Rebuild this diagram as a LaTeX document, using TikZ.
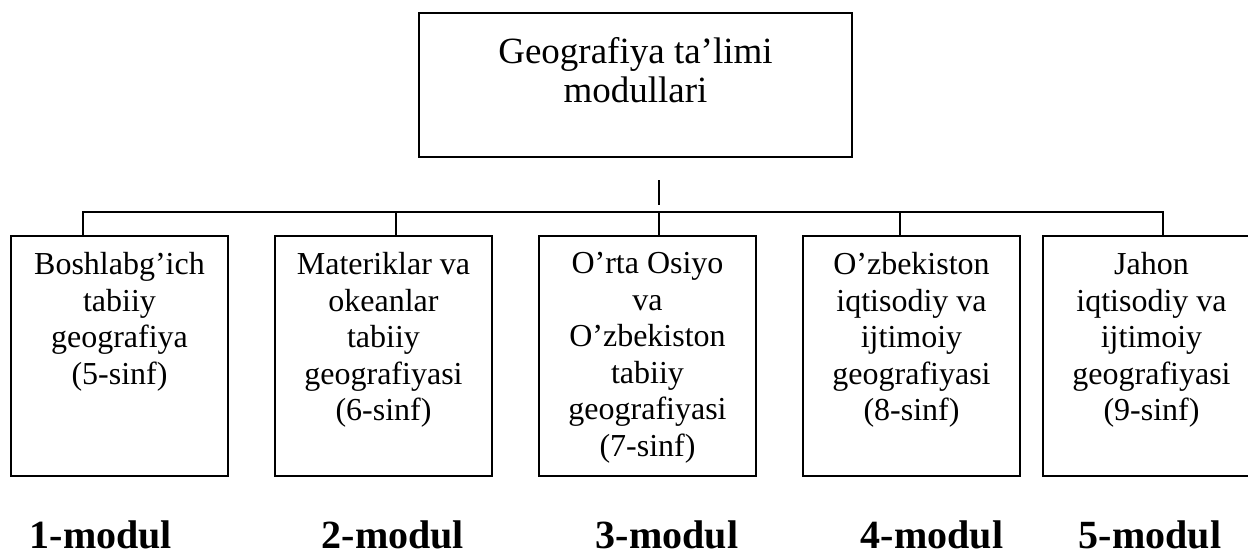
\documentclass[tikz,border=0pt]{standalone}
\usepackage{fontspec}
\setmainfont{Liberation Serif}
\usetikzlibrary{positioning, calc}

\begin{document}
\begin{tikzpicture}[
  x=0.5pt, y=-0.5pt,
  headbox/.style={draw, line width=1.1pt, minimum width=216.5pt, minimum height=72pt, inner sep=0pt},
  modbox/.style={draw, line width=1.1pt, minimum width=108.5pt, minimum height=120pt, inner sep=0pt},
  modtext/.style={font=\fontsize{16}{18.3}\selectfont, align=center, anchor=north, inner sep=0pt},
  modlabel/.style={font=\fontsize{20}{22}\selectfont\bfseries, anchor=base, inner sep=0pt},
  link/.style={line width=1.1pt}
]
\useasboundingbox (0,0) rectangle (1248,554);

% Head box
\node[headbox] (head) at (635.5,85) {};
\node[font=\fontsize{18.5}{19.5}\selectfont, align=center, anchor=north, inner sep=0pt] (headtxt)
  at ($(head.north)+(0,25)$) {Geografiya ta’limi\\modullari};

% Five module boxes
\node[modbox] (b1) at (119.5,356) {};
\node[modtext] (t1) at ($(b1.north)+(0,17)$) {Boshlabg’ich\\tabiiy\\geografiya\\(5-sinf)};

\node[modbox] (b2) at (383.5,356) {};
\node[modtext] (t2) at ($(b2.north)+(0,17)$) {Materiklar va\\okeanlar\\tabiiy\\geografiyasi\\(6-sinf)};

\node[modbox] (b3) at (647.5,356) {};
\node[modtext] (t3) at ($(b3.north)+(0,17)$) {O’rta Osiyo\\va\\O’zbekiston\\tabiiy\\geografiyasi\\(7-sinf)};

\node[modbox] (b4) at (911.5,356) {};
\node[modtext] (t4) at ($(b4.north)+(0,17)$) {O’zbekiston\\iqtisodiy va\\ijtimoiy\\geografiyasi\\(8-sinf)};

\node[modbox] (b5) at (1151.5,356) {};
\node[modtext] (t5) at ($(b5.north)+(0,17)$) {Jahon\\iqtisodiy va\\ijtimoiy\\geografiyasi\\(9-sinf)};

% Module labels below boxes
\node[modlabel] (m1) at (101,548) {1-modul};
\node[modlabel] (m2) at (393,548) {2-modul};
\node[modlabel] (m3) at (667,548) {3-modul};
\node[modlabel] (m4) at (932,548) {4-modul};
\node[modlabel] (m5) at (1150,548) {5-modul};

% Branching lines
\coordinate (stubtop) at (659,180);
\coordinate (stubbot) at (659,205);
\draw[link] (stubtop) -- (stubbot);

\coordinate (j1) at (83,212);
\coordinate (j2) at (396,212);
\coordinate (j3) at (659,212);
\coordinate (j4) at (900,212);
\coordinate (j5) at (1163,212);
\draw[link] (j1 |- b1.north) -- (j1) -- (j5) -- (j5 |- b5.north);
\draw[link] (j2) -- (j2 |- b2.north);
\draw[link] (j3) -- (j3 |- b3.north);
\draw[link] (j4) -- (j4 |- b4.north);

\end{tikzpicture}
\end{document}
